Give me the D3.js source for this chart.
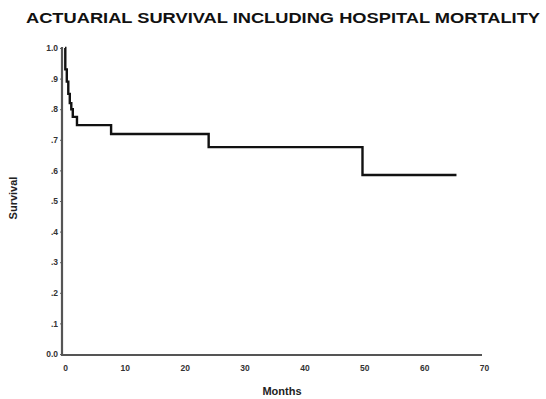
<!DOCTYPE html>
<html>
<head>
<meta charset="utf-8">
<script src="https://cdn.jsdelivr.net/npm/d3@7"></script>
<style>
	body { margin: 0; background: #fff; }
	svg { display: block; }
	text { font-family: "Liberation Sans", Arial, sans-serif; font-weight: bold; }
</style>
</head>
<body>
<svg id="chart" width="546" height="399"></svg>
<script>
	/* Data */
	const months   = [0, 0.05, 0.3, 0.55, 0.8, 1.05, 1.3, 2.0, 7.7, 24.0, 49.7, 65.4];
	const survival = [1.0, 0.93, 0.89, 0.85, 0.82, 0.80, 0.775, 0.748, 0.719, 0.676, 0.585, 0.585];
	const xTicks = [0, 10, 20, 30, 40, 50, 60, 70];
	const yTicks = [0, 0.1, 0.2, 0.3, 0.4, 0.5, 0.6, 0.7, 0.8, 0.9, 1.0];
	const yTickLabels = ["0.0", ".1", ".2", ".3", ".4", ".5", ".6", ".7", ".8", ".9", "1.0"];

	const svg = d3.select("#chart");
	const axisX = 62;
	const axisY = 355;

	const xScale = d3.scaleLinear().domain([0, 70]).range([65, 484]);
	const yScale = d3.scaleLinear().domain([0, 1]).range([354, 48]);

	// title
	svg.append("text")
		.attr("x", 26)
		.attr("y", 23)
		.attr("font-size", 14)
		.attr("textLength", 514)
		.attr("lengthAdjust", "spacingAndGlyphs")
		.attr("fill", "#111")
		.text("ACTUARIAL SURVIVAL INCLUDING HOSPITAL MORTALITY");

	// axes
	const xAxis = d3.axisBottom(xScale)
		.tickValues(xTicks)
		.tickSize(0)
		.tickPadding(10);

	const yAxis = d3.axisLeft(yScale)
		.tickValues(yTicks)
		.tickFormat((d, i) => yTickLabels[i])
		.tickSize(2)
		.tickPadding(2);

	const gx = svg.append("g")
		.attr("transform", `translate(0,${axisY})`)
		.call(xAxis);

	const gy = svg.append("g")
		.attr("transform", `translate(${axisX},0)`)
		.call(yAxis);

	[gx, gy].forEach((g) => {
		g.select(".domain").remove();
		g.selectAll("text")
			.attr("font-size", 8.5)
			.attr("fill", "#333");
		g.selectAll("line").attr("stroke", "#666");
	});

	// axis lines
	svg.append("line")
		.attr("x1", axisX).attr("x2", axisX)
		.attr("y1", axisY + 1).attr("y2", yScale(1) - 1)
		.attr("stroke", "#555")
		.attr("stroke-width", 2.2);

	svg.append("line")
		.attr("x1", axisX - 1).attr("x2", xScale(70) - 2)
		.attr("y1", axisY).attr("y2", axisY)
		.attr("stroke", "#555")
		.attr("stroke-width", 2.2);

	// survival curve
	const points = months.map((m, i) => ({ m: m, s: survival[i] }));

	const line = d3.line()
		.x((d) => xScale(d.m))
		.y((d) => yScale(d.s))
		.curve(d3.curveStepAfter);

	svg.append("path")
		.datum(points)
		.attr("d", line)
		.attr("fill", "none")
		.attr("stroke", "#111")
		.attr("stroke-width", 2.4);

	// axis titles
	svg.append("text")
		.attr("transform", "translate(17,198) rotate(-90)")
		.attr("text-anchor", "middle")
		.attr("font-size", 11)
		.attr("fill", "#222")
		.text("Survival");

	svg.append("text")
		.attr("x", 282)
		.attr("y", 395)
		.attr("text-anchor", "middle")
		.attr("font-size", 11)
		.attr("fill", "#222")
		.text("Months");
</script>
</body>
</html>
